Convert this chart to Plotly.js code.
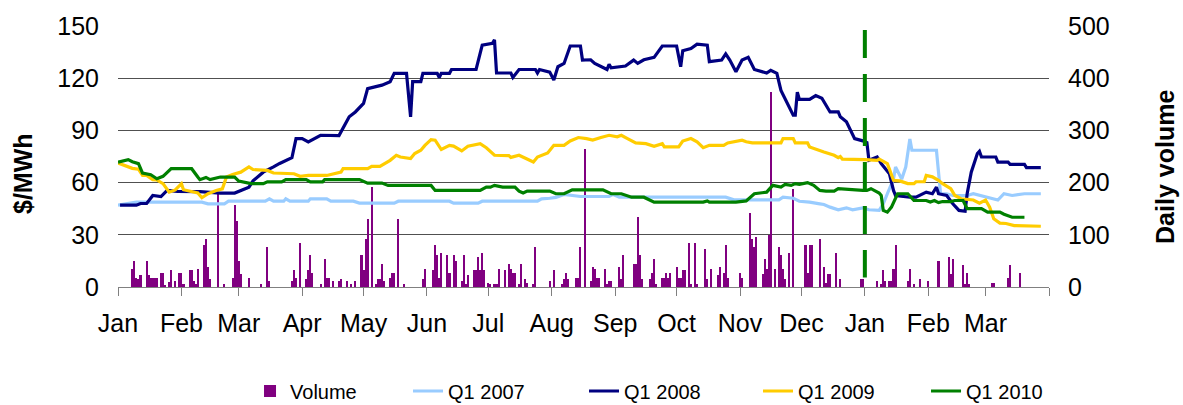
<!DOCTYPE html>
<html>
<head>
<meta charset="utf-8">
<script src="https://cdn.plot.ly/plotly-3.0.1.min.js"></script>
<style>html,body{margin:0;padding:0;background:#fff;}#chart{width:1183px;height:405px;}</style>
</head>
<body>
<div id="chart"></div>
<script>
// Month ticks (day index from 1 Jan, 15 months)
const monthStarts = [0,31,59,90,120,151,181,212,243,273,304,334,365,396,424,455];
const monthLabels = ["Jan","Feb","Mar","Apr","May","Jun","Jul","Aug","Sep","Oct","Nov","Dec","Jan","Feb","Mar",""];

// Daily volume (right axis)
const volumeDays = [7,8,9,10,11,14,15,16,17,18,19,21,22,23,25,26,28,30,31,32,35,36,37,38,39,42,43,44,45,49,52,56,57,58,59,60,64,70,73,74,85,86,87,89,92,93,94,95,99,101,102,103,105,108,109,112,114,116,119,120,121,122,124,126,127,128,129,130,133,134,135,137,140,149,150,154,155,156,157,158,161,162,164,165,168,169,170,171,174,175,176,177,178,179,181,182,184,185,186,189,191,192,193,194,196,197,199,200,203,204,211,213,217,218,219,220,224,225,226,228,231,232,233,234,235,238,239,240,241,245,246,247,252,253,254,255,256,260,261,262,263,266,267,268,269,270,273,274,275,276,277,279,280,282,283,287,288,290,293,294,296,297,298,304,305,309,310,311,312,315,316,317,318,319,321,323,324,325,326,328,330,336,337,338,339,343,345,346,347,348,351,353,363,364,371,373,374,375,377,378,379,380,386,387,389,392,396,401,406,407,408,413,414,415,416,427,428,435,436,441];
const volumeValues = [34,49,18,16,23,49,23,17,17,18,18,26,26,4,10,32,12,26,26,5,32,32,12,5,34,80,92,38,16,182,5,18,157,126,49,25,18,5,77,12,12,32,18,84,16,32,61,26,5,53,18,17,12,12,16,12,5,12,61,32,92,130,192,5,16,16,45,12,18,26,26,130,5,16,34,32,80,61,17,65,61,26,61,49,12,61,5,23,32,32,57,32,65,32,8,5,5,5,34,32,45,34,26,26,5,45,16,8,5,77,12,32,5,16,26,16,18,18,77,264,12,38,34,18,18,34,5,12,12,38,16,61,45,45,134,61,16,16,26,53,5,18,18,26,18,26,38,18,18,32,32,84,5,84,5,73,16,34,23,38,26,80,18,26,18,141,92,77,96,24,53,34,100,374,34,77,61,34,16,65,188,80,26,80,80,92,38,8,24,24,65,16,16,16,12,5,32,12,12,12,34,80,12,34,5,16,12,49,57,24,53,42,5,26,5,8,8,18,42,26];

// Q1 2007 forward price ($/MWh)
const q1_2007_days = [0,9,41,44,52,54,72,74,76,81,82,84,93,94,102,104,115,118,135,137,162,164,176,178,205,207,211,214,218,226,240,242,245,297,301,323,325,330,333,338,343,345,348,352,356,359,364,367,372,374,376,379,380,383,385,387,388,400,402,405,408,415,418,425,430,433,437,443,451];
const q1_2007_prices = [47,48.8,48.8,47.8,47.8,49.3,49.3,50.7,49.3,49.3,50.7,49.3,49.3,50.7,50.7,49.3,49.3,48.2,48.2,49.3,49.3,48.2,48.2,49.3,49.3,50.7,51,51.5,53.2,52,52,53.2,51.6,51.6,50.1,50.1,51.6,51,49.3,48.8,47.8,47.4,45.9,44.4,45.5,44.4,45.5,44.4,44,47.8,53.6,62,69,62,69,85,78.6,78.6,53.6,53.6,52.6,52.6,53.6,51.6,50,53.6,52.6,53.6,53.6];

// Q1 2008 forward price
const q1_2008_days = [1,9,11,14,17,21,24,29,40,50,57,60,64,66,71,76,79,85,87,90,93,99,108,113,116,120,122,129,133,135,141,143,144,148,149,156,157,158,162,163,175,178,183,184,185,192,193,196,204,205,206,211,213,215,218,221,226,227,231,233,239,240,241,248,252,254,257,262,266,273,275,276,280,283,288,289,295,297,299,302,305,308,311,317,319,322,324,330,331,332,333,338,341,344,348,352,353,356,358,360,364,366,367,369,371,373,375,377,379,380,387,390,395,398,400,401,405,408,411,414,415,417,420,421,422,429,430,435,436,443,444,451];
const q1_2008_prices = [47,47,48,48,52.6,52,55.5,55,54.8,54,54,55.5,57.4,61,66,69,71,74.3,85.3,85.3,83.4,87.2,87,97.8,100.6,105.5,114,116,118,122.8,122.8,97.8,118,118,122.8,122.8,120.4,122.8,122.8,125,125,139,140,142,123,123,120.4,125,125,123,125,123.5,119,126.6,128.5,138.5,138.5,130.4,130.6,128.5,125,128,126,127,130.4,128.5,130.6,132,138.5,138.5,126.6,135.8,137,139.6,139,129.5,130.4,134,130.4,123.7,130.4,132,125,123,124.5,122.8,113,98.7,98.7,112,107.8,107.8,110,108.5,100.6,100.6,97.8,94.9,90,85.3,84,83,72.8,73.8,74.7,70.9,68,65.1,55.5,52.6,51.6,51.6,54.5,53.6,57.4,53.6,52.6,47.8,44,43.5,53.6,66,76.7,78,74.7,74.7,71.8,71.8,70.5,70.5,68.6,68.6];

// Q1 2009 forward price
const q1_2009_days = [0,5,7,10,12,14,17,19,22,25,28,31,32,39,41,44,48,51,53,56,60,64,66,73,76,86,89,93,102,109,110,122,124,128,131,133,136,138,143,145,148,150,153,155,158,162,164,168,171,177,180,184,191,192,196,198,203,205,210,213,218,221,225,229,232,236,240,244,246,249,253,258,262,266,267,274,276,280,283,286,289,296,298,305,307,310,324,325,330,331,337,338,342,345,350,352,353,354,365,371,372,376,379,382,386,389,390,394,395,398,401,403,407,409,412,418,421,424,426,428,431,434,438,447,451];
const q1_2009_prices = [71.3,69.3,68.2,67.7,64.1,64.1,61.7,61.5,59.4,54.5,55.8,59.4,55.9,54,51.3,53.6,55.5,56.4,63.2,64.7,66,69,67.5,67,65.5,65.1,63.6,64.1,64.1,66,68,68,69.3,69.3,71.3,72.8,75.7,74.7,73.8,76.7,78.6,81.4,84.7,84.4,79,81.4,81,78.2,80.9,82.4,80,75.7,75.5,74.5,75.7,74.5,71.8,74.7,77,81.4,81.4,83.9,85.9,85.3,84.4,85.9,87.2,86.3,87.2,85.3,82.8,82.4,80.9,82.4,80.5,80.5,83.9,85.3,83.4,80.1,81.4,81.4,82.8,84.4,83.5,82.8,82.8,85.3,85.3,82.8,82.8,80.5,78.6,77.6,75.7,74.3,75,73.5,73.2,72.8,73.5,70.9,61.3,61,59.4,59.4,60.5,60.5,64.1,63.3,61.3,59.4,56.5,52.6,50.7,50,48.2,50,45.9,39.2,36.7,36.5,35.3,35.3,34.9];

// Q1 2010 forward price
const q1_2010_days = [0,5,7,10,12,14,16,19,22,26,36,39,40,43,45,50,57,59,65,71,73,80,82,92,94,100,101,118,122,129,132,153,155,177,180,182,184,188,194,196,198,200,211,214,218,222,237,241,246,251,257,262,286,288,289,302,307,311,317,320,324,326,329,331,333,337,340,343,346,350,352,364,366,368,372,373,374,376,378,381,386,389,395,397,399,401,403,407,409,413,415,422,425,431,433,437,443];
const q1_2010_prices = [71.8,73.2,72,70.9,65.5,65,64.5,62.2,63.6,68,68,63.2,61.7,63,61.7,63.2,63.2,60.9,59.4,59.4,60.4,60.4,61.7,61.7,60.4,60.4,61.7,61.7,59.7,59.7,58.4,58.4,55.5,55.5,57.4,57.4,58.4,57.4,57.4,55.1,54,55.1,55.1,53.6,53.6,55.8,55.8,53.6,53.6,51.6,51.6,48.8,48.8,49.5,48.8,48.8,49.5,53.6,54.5,58.4,57.4,59,58.4,59.4,59,60,58.4,55.5,55.1,55.1,56.5,55.5,55.5,56.5,54,52.6,44,43,45.9,53.6,53.6,49.7,49.7,48.8,49.7,48.5,49.1,49.1,49.7,49.7,45,45,43,43,41.8,40.1,40.1];

const dividerDay = 365;

const seriesNames = ["Q1 2007","Q1 2008","Q1 2009","Q1 2010"];
const seriesColors = ["#99CCFF","#000080","#FFCC00","#008000"];

const FONT = "'Liberation Sans', Arial, sans-serif";

const lineSeries = [
  [q1_2007_days, q1_2007_prices],
  [q1_2008_days, q1_2008_prices],
  [q1_2009_days, q1_2009_prices],
  [q1_2010_days, q1_2010_prices]
];
const legendWidths = [131,129,123,120];

const traces = [{
  type: "bar", name: "Volume", x: volumeDays, y: volumeValues,
  yaxis: "y", width: 1, marker: {color: "#800080", line: {width: 0}},
  legendwidth: 113, hoverinfo: "skip"
}];
lineSeries.forEach((s, i) => {
  traces.push({
    type: "scatter", mode: "lines", name: seriesNames[i],
    x: s[0], y: s[1], yaxis: "y2",
    line: {color: seriesColors[i], width: 3.2},
    legendwidth: legendWidths[i], hoverinfo: "skip"
  });
});

const layout = {
  width: 1183, height: 405,
  margin: {l: 118, r: 134, t: 26, b: 118, autoexpand: false},
  paper_bgcolor: "#fff", plot_bgcolor: "#fff",
  font: {family: FONT, size: 25, color: "#000"},
  showlegend: true,
  bargap: 0,
  xaxis: {
    range: [0, 455], tickmode: "array", tickvals: monthStarts, ticktext: monthLabels,
    ticks: "outside", ticklen: 8, tickcolor: "#808080", tickwidth: 1,
    showline: true, linecolor: "#808080", linewidth: 1,
    showgrid: false, zeroline: false, ticklabelstandoff: 6,
    tickfont: {family: FONT, size: 25, color: "#000"}
  },
  yaxis: {
    range: [0, 500], dtick: 100, side: "right",
    showgrid: true, gridcolor: "#505050", gridwidth: 1,
    zeroline: false, ticks: "", ticklabelstandoff: 18,
    tickfont: {family: FONT, size: 25, color: "#000"}
  },
  yaxis2: {
    range: [0, 150], dtick: 30, overlaying: "y", side: "left",
    showgrid: false, zeroline: false, ticks: "", ticklabelstandoff: 18,
    tickfont: {family: FONT, size: 25, color: "#000"}
  },
  shapes: [{
    type: "line", xref: "x", yref: "paper",
    x0: dividerDay, x1: dividerDay, y0: 0.985, y1: 0.036,
    line: {color: "#008000", width: 4, dash: "28px,16px"}
  }],
  annotations: [
    {text: "<b>$/MWh</b>", xref: "paper", yref: "paper", x: -0.102, y: 0.433,
     xanchor: "center", yanchor: "middle", textangle: -90, showarrow: false,
     font: {family: FONT, size: 25, color: "#000"}},
    {text: "<b>Daily volume</b>", xref: "paper", yref: "paper", x: 1.1246, y: 0.46,
     xanchor: "center", yanchor: "middle", textangle: -90, showarrow: false,
     font: {family: FONT, size: 25, color: "#000"}}
  ],
  legend: {
    orientation: "h", x: 0.1418, xanchor: "left", y: -0.3985, yanchor: "middle",
    font: {family: FONT, size: 20, color: "#000"},
    bgcolor: "rgba(0,0,0,0)", traceorder: "normal"
  }
};

Plotly.newPlot("chart", traces, layout, {staticPlot: true, displayModeBar: false});
</script>
</body>
</html>
